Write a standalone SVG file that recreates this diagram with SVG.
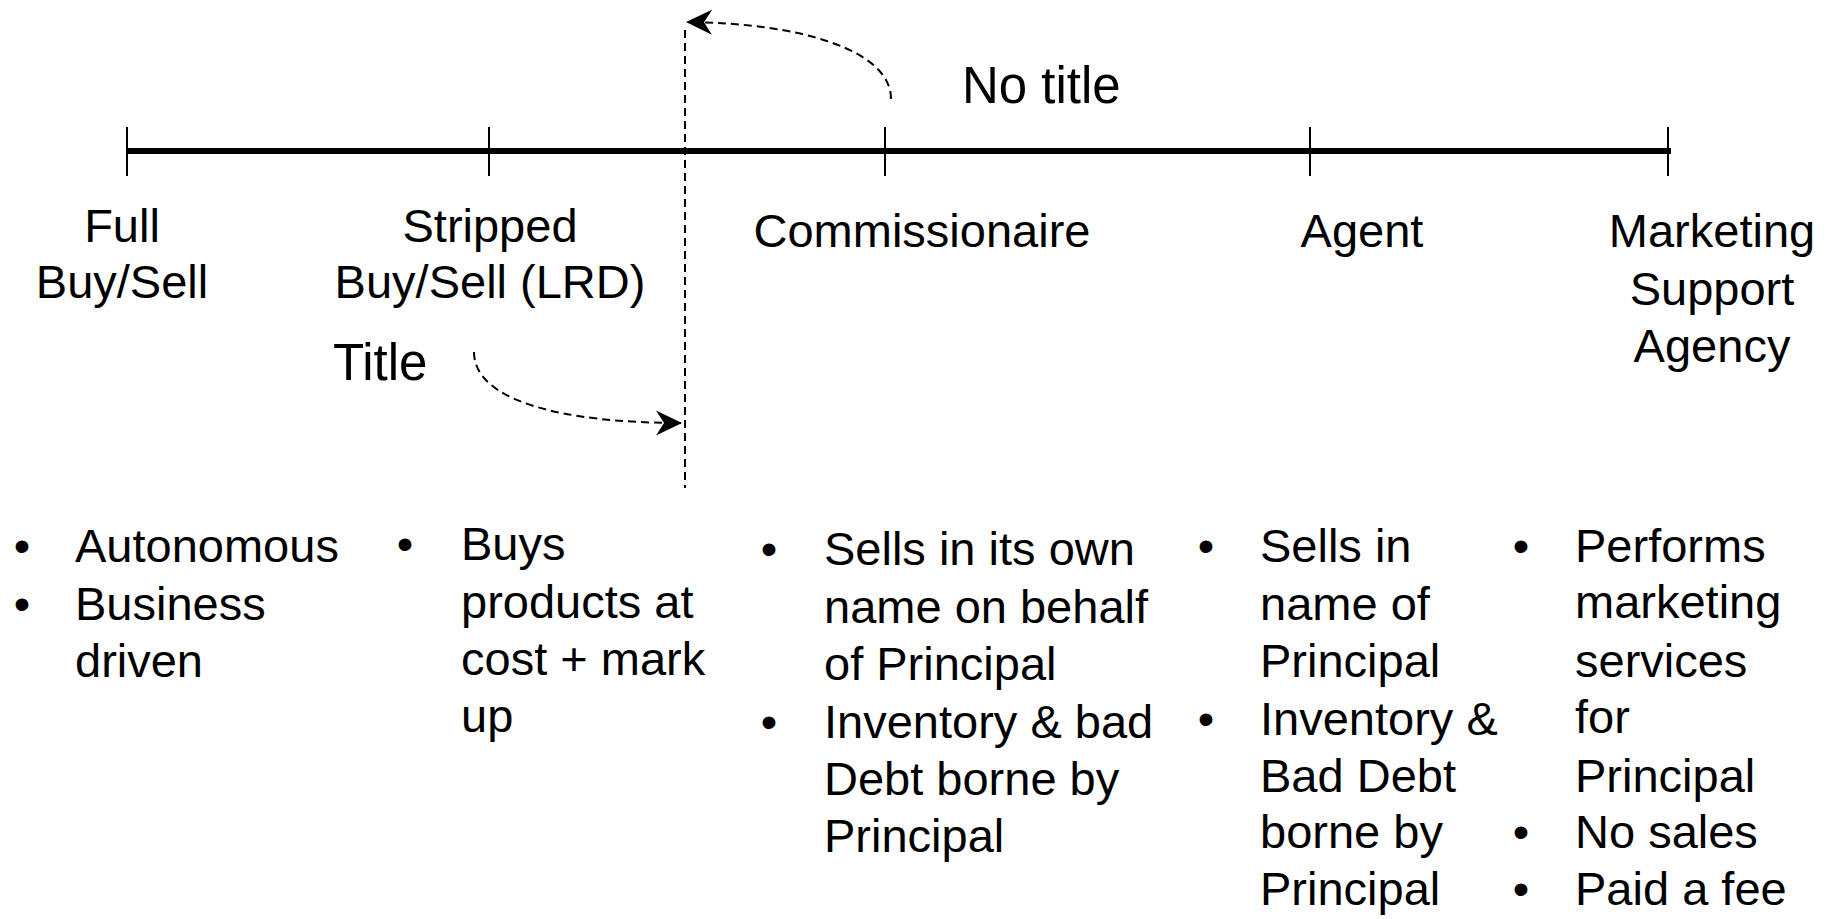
<svg xmlns="http://www.w3.org/2000/svg" width="1829" height="919" viewBox="0 0 1829 919">
<style>
text{font-family:"Liberation Sans",Arial,sans-serif;fill:#000;}
.lbl{font-size:47px;text-anchor:middle;}
.ttl{font-size:51px;}
.b{font-size:47px;}
.dot{font-size:47px;text-anchor:middle;}
.tick{stroke:#000;stroke-width:2;fill:none;}
.dash{stroke:#000;stroke-width:2;stroke-dasharray:8 5;fill:none;}
</style>
<defs>
<marker id="arr" viewBox="0 0 26 26" markerWidth="26" markerHeight="26" refX="25" refY="13" orient="auto" markerUnits="userSpaceOnUse">
<path d="M0,0.5 L26,13 L0,25.5 L8,13 z" fill="#000"/>
</marker>
</defs>
<g id="axis">
<line x1="127" y1="151" x2="1671" y2="151" stroke="#000" stroke-width="6"/>
<line class="tick" x1="127" y1="127" x2="127" y2="176"/>
<line class="tick" x1="489" y1="127" x2="489" y2="176"/>
<line class="tick" x1="885" y1="127" x2="885" y2="176"/>
<line class="tick" x1="1310" y1="127" x2="1310" y2="176"/>
<line class="tick" x1="1668" y1="127" x2="1668" y2="176"/>
</g>
<g id="connectors">
<line class="dash" x1="685" y1="30" x2="685" y2="488"/>
<path class="dash" d="M891,99 C891,50 800,23 687,22" marker-end="url(#arr)"/>
<path class="dash" d="M474,352 C474,400 560,423 681,423" marker-end="url(#arr)"/>
</g>
<g id="no-title"><text class="ttl" x="962" y="103">No title</text></g>
<g id="title"><text class="ttl" x="333" y="380">Title</text></g>
<g id="full"><text class="lbl" x="122" y="242">Full</text><text class="lbl" x="122" y="298">Buy/Sell</text></g>
<g id="stripped"><text class="lbl" x="490" y="242">Stripped</text><text class="lbl" x="490" y="298">Buy/Sell (LRD)</text></g>
<g id="commissionaire"><text class="lbl" x="922" y="247">Commissionaire</text></g>
<g id="agent"><text class="lbl" x="1362" y="247">Agent</text></g>
<g id="msa"><text class="lbl" x="1712" y="247">Marketing</text><text class="lbl" x="1712" y="305">Support</text><text class="lbl" x="1712" y="362">Agency</text></g>
<g id="list-full">
<text class="dot" x="22" y="562">•</text><text class="b" x="75" y="562">Autonomous</text>
<text class="dot" x="22" y="620">•</text><text class="b" x="75" y="620">Business</text>
<text class="b" x="75" y="677">driven</text>
</g>
<g id="list-stripped">
<text class="dot" x="405" y="560">•</text><text class="b" x="461" y="560">Buys</text>
<text class="b" x="461" y="618">products at</text>
<text class="b" x="461" y="675">cost + mark</text>
<text class="b" x="461" y="732">up</text>
</g>
<g id="list-commissionaire">
<text class="dot" x="769" y="565">•</text><text class="b" x="824" y="565">Sells in its own</text>
<text class="b" x="824" y="623">name on behalf</text>
<text class="b" x="824" y="680">of Principal</text>
<text class="dot" x="769" y="738">•</text><text class="b" x="824" y="738">Inventory &amp; bad</text>
<text class="b" x="824" y="795">Debt borne by</text>
<text class="b" x="824" y="852">Principal</text>
</g>
<g id="list-agent">
<text class="dot" x="1206" y="562">•</text><text class="b" x="1260" y="562">Sells in</text>
<text class="b" x="1260" y="620">name of</text>
<text class="b" x="1260" y="677">Principal</text>
<text class="dot" x="1206" y="735">•</text><text class="b" x="1260" y="735">Inventory &amp;</text>
<text class="b" x="1260" y="792">Bad Debt</text>
<text class="b" x="1260" y="848">borne by</text>
<text class="b" x="1260" y="905">Principal</text>
</g>
<g id="list-msa">
<text class="dot" x="1521" y="562">•</text><text class="b" x="1575" y="562">Performs</text>
<text class="b" x="1575" y="618">marketing</text>
<text class="b" x="1575" y="677">services</text>
<text class="b" x="1575" y="733">for</text>
<text class="b" x="1575" y="792">Principal</text>
<text class="dot" x="1521" y="848">•</text><text class="b" x="1575" y="848">No sales</text>
<text class="dot" x="1521" y="905">•</text><text class="b" x="1575" y="905">Paid a fee</text>
</g>
</svg>
